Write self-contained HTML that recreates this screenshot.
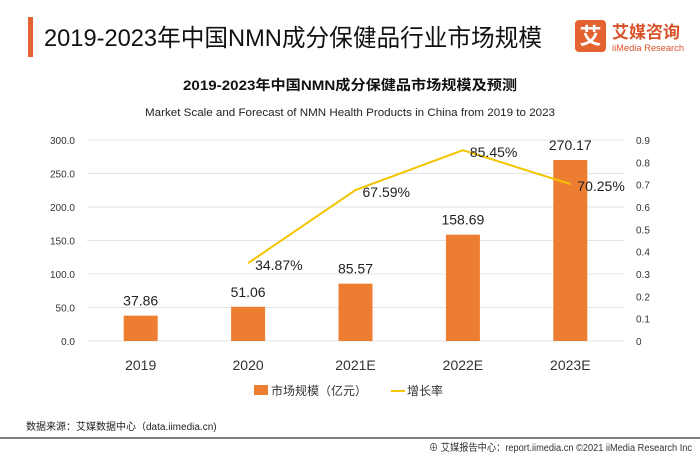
<!DOCTYPE html>
<html><head><meta charset="utf-8"><style>
body{margin:0;width:700px;height:455px;background:#fff;overflow:hidden;font-family:"Liberation Sans","Noto Sans CJK SC",sans-serif;}
svg text{font-family:"Liberation Sans","Noto Sans CJK SC",sans-serif;}
</style></head><body>
<svg width="700" height="455" viewBox="0 0 700 455">
<rect x="28" y="17" width="5" height="40" fill="#e4622f"/>
<text x="44" y="46" font-size="24" fill="#111" textLength="498" lengthAdjust="spacingAndGlyphs">2019-2023年中国NMN成分保健品行业市场规模</text>
<g>
<rect x="575" y="20" width="31" height="32" rx="4" fill="#e4622f"/>
<text x="590.5" y="44" font-size="22" font-weight="bold" fill="#fff" text-anchor="middle">艾</text>
<text x="612" y="38" font-size="17" font-weight="bold" fill="#d9532b">艾媒咨询</text>
<text x="612" y="51" font-size="9" fill="#d9532b" textLength="72" lengthAdjust="spacingAndGlyphs">iiMedia Research</text>
</g>
<text x="350" y="90" font-size="14" font-weight="bold" fill="#111" text-anchor="middle" textLength="334" lengthAdjust="spacingAndGlyphs">2019-2023年中国NMN成分保健品市场规模及预测</text>
<text x="350" y="116" font-size="11" fill="#222" text-anchor="middle" textLength="410" lengthAdjust="spacingAndGlyphs">Market Scale and Forecast of NMN Health Products in China from 2019 to 2023</text>
<g id="grid"></g><g id="bars"></g><g id="line"></g><g id="labels"></g>
<g>
<rect x="254" y="385" width="14" height="10" fill="#ed7d31"/>
<text x="271" y="395" font-size="12" fill="#333">市场规模（亿元）</text>
<line x1="391" y1="391" x2="405" y2="391" stroke="#f2c500" stroke-width="2"/>
<text x="407" y="395" font-size="12" fill="#333">增长率</text>
</g>
<text x="26" y="430" font-size="10" fill="#222">数据来源：艾媒数据中心（data.iimedia.cn)</text>
<line x1="0" y1="438" x2="700" y2="438" stroke="#555" stroke-width="1.5"/>
<text x="692" y="451" font-size="10" fill="#333" text-anchor="end" textLength="263" lengthAdjust="spacingAndGlyphs">⊕ 艾媒报告中心：report.iimedia.cn  ©2021  iiMedia Research Inc</text>
</svg>
<script>
const categories=["2019","2020","2021E","2022E","2023E"];
const marketValues=[37.86,51.06,85.57,158.69,270.17];
const growthRates=[null,0.3487,0.6759,0.8545,0.7025];
const leftTicks=[0,50,100,150,200,250,300];
const rightTicks=[0,0.1,0.2,0.3,0.4,0.5,0.6,0.7,0.8,0.9];
const NS="http://www.w3.org/2000/svg";
const x0=87,x1=624,y0=341,y1=140;
const band=(x1-x0)/categories.length;
const xc=i=>x0+band*(i+0.5);
const yL=v=>y0-(v/300)*(y0-y1);
const yR=v=>y0-(v/0.9)*(y0-y1);
function mk(tag,attrs,parent,txt){const e=document.createElementNS(NS,tag);for(const k in attrs)e.setAttribute(k,attrs[k]);if(txt!==undefined)e.textContent=txt;document.getElementById(parent).appendChild(e);return e;}
leftTicks.forEach(t=>{
 const l=mk('line',{x1:x0,x2:x1,y1:yL(t),y2:yL(t),stroke:'#e4e4e4','stroke-width':1},'grid');
 
 
 const tx=mk('text',{x:75,y:yL(t)+4,'font-size':10,fill:'#333','text-anchor':'end'},'grid',t.toFixed(1));
 
 
});
rightTicks.forEach(t=>{
 const tx=mk('text',{x:636,y:yR(t)+4,'font-size':10,fill:'#333'},'grid',String(Math.round(t*10)/10));
 
 
});
categories.forEach((c,i)=>{
 const v=marketValues[i];
 const r=mk('rect',{x:xc(i)-17,y:yL(v),width:34,height:y0-yL(v),fill:'#ed7d31'},'bars');
 
 
 const vl=mk('text',{x:xc(i),y:yL(v)-10,'font-size':14,fill:'#222','text-anchor':'middle'},'labels',v.toFixed(2));
 
 
 const cl=mk('text',{x:xc(i),y:370,'font-size':14,fill:'#333','text-anchor':'middle'},'labels',c);
 
 
});
let pts=[];
growthRates.forEach((g,i)=>{if(g!==null)pts.push([xc(i),yR(g),g]);});
const pl=mk('polyline',{points:pts.map(p=>p[0]+','+p[1]).join(' '),fill:'none',stroke:'#f2c500','stroke-width':2},'line');


pts.forEach(p=>{
 const t=mk('text',{x:p[0]+7,y:p[1]+7,'font-size':14,fill:'#222'},'labels',(p[2]*100).toFixed(2)+'%');
 
 
});
</script>
</body></html>
